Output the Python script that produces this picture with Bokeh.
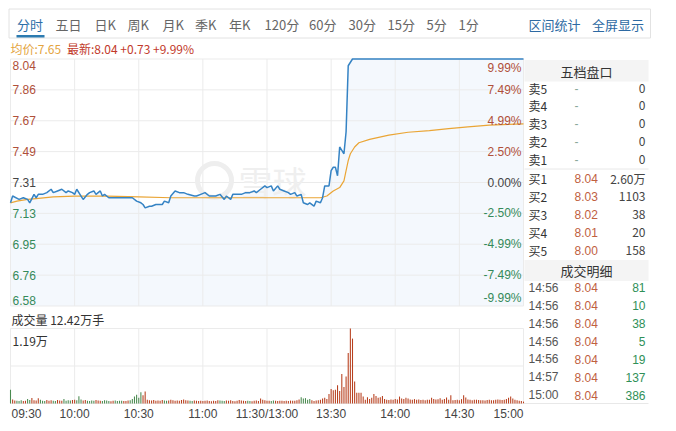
from bokeh.plotting import figure
from bokeh.models import Range1d, ColumnDataSource
from bokeh.core.properties import value
from bokeh.embed import file_html
from bokeh.resources import INLINE
from bokeh.transform import factor_cmap

# ---------------- data ----------------
tabs = ["分时", "五日", "日K", "周K", "月K", "季K", "年K", "120分", "60分", "30分", "15分", "5分", "1分"]
links = ["区间统计", "全屏显示"]
avg_text = "均价:7.65"
latest_text = "最新:8.04 +0.73 +9.99%"
watermark = "雪球"

prev_close = 7.31
limit_up = 8.04
limit_down = 6.58
price_tick_labels = ["8.04", "7.86", "7.67", "7.49", "7.31", "7.13", "6.95", "6.76", "6.58"]
pct_tick_labels = ["9.99%", "7.49%", "4.99%", "2.50%", "0.00%", "-2.50%", "-4.99%", "-7.49%", "-9.99%"]
time_tick_minutes = [0, 30, 60, 90, 120, 150, 180, 210, 240]
time_tick_labels = ["09:30", "10:00", "10:30", "11:00", "11:30/13:00", "13:30", "14:00", "14:30", "15:00"]

price_minutes = [0, 1, 4, 6, 8, 9, 11, 12, 13, 15, 17, 19, 20, 22, 24, 26, 27, 29,
                 30, 31, 33, 34, 36, 37, 39, 40, 42, 43, 44, 46, 49, 52, 55, 57, 59, 61,
                 62, 63, 65, 66, 68, 71, 72, 74, 75, 77, 79, 81, 83, 86, 87, 89, 91, 93,
                 96, 98, 100, 101, 103, 104, 106, 108, 110, 112, 114, 115, 117, 119, 120, 122, 123, 125,
                 126, 128, 130, 131, 133, 134, 136, 137, 139, 140, 142, 143, 145, 146, 147, 149, 150, 151,
                 152, 153, 154, 155, 156, 157, 158, 160, 240]
price_values = [7.19, 7.23, 7.21, 7.22, 7.21, 7.19, 7.24, 7.22, 7.24, 7.24, 7.25, 7.27,
                7.25, 7.26, 7.27, 7.25, 7.26, 7.25, 7.24, 7.27, 7.23, 7.21, 7.24, 7.25,
                7.26, 7.24, 7.26, 7.23, 7.24, 7.22, 7.22, 7.22, 7.22, 7.22, 7.20, 7.19,
                7.18, 7.16, 7.17, 7.17, 7.18, 7.18, 7.20, 7.19, 7.23, 7.26, 7.25, 7.25,
                7.24, 7.23, 7.23, 7.24, 7.25, 7.23, 7.23, 7.24, 7.21, 7.23, 7.21, 7.24,
                7.24, 7.24, 7.25, 7.25, 7.26, 7.25, 7.27, 7.29, 7.28, 7.29, 7.26, 7.29,
                7.27, 7.26, 7.25, 7.24, 7.25, 7.23, 7.24, 7.19, 7.18, 7.19, 7.17, 7.20,
                7.19, 7.22, 7.29, 7.29, 7.38, 7.40, 7.40, 7.35, 7.52, 7.50, 7.48, 7.61,
                8.00, 8.04, 8.04]

avg_minutes = [0, 3, 8, 12, 20, 30, 45, 60, 75, 90, 110, 130, 145, 148, 151, 154, 156, 157,
               158, 159, 161, 163, 168, 177, 186, 196, 205, 214, 224, 233, 240]
avg_values = [7.19, 7.20, 7.21, 7.215, 7.225, 7.23, 7.23, 7.225, 7.22, 7.22, 7.22, 7.22,
              7.22, 7.23, 7.26, 7.28, 7.32, 7.38, 7.44, 7.48, 7.52, 7.545, 7.565, 7.59,
              7.607, 7.617, 7.629, 7.639, 7.649, 7.653, 7.657]

vol_title = "成交量 12.42万手"
vol_max = 11900
vol_max_label = "1.19万"
volumes = [
    2200, 620, 480, 450, 400, 520, 380, 430, 700, 560,
    880, 520, 460, 820, 600, 450, 380, 560, 420, 500,
    430, 380, 560, 480, 450, 700, 420, 520, 480, 560,
    600, 520, 1150, 650, 480, 560, 420, 380, 460, 420,
    560, 480, 430, 380, 520, 460, 380, 350, 420, 480,
    380, 420, 450, 400, 380, 460, 520, 700, 1100, 1400,
    900, 1800, 1300, 1900, 600, 520, 480, 560, 450, 480,
    430, 560, 480, 420, 460, 600, 520, 450, 480, 420,
    560, 620, 500, 480, 420, 380, 460, 430, 390, 420,
    380, 420, 460, 400, 350, 420, 380, 520, 460, 430,
    380, 460, 420, 520, 380, 350, 420, 560, 480, 420,
    380, 430, 400, 360, 420, 460, 380, 800, 600, 520,
    450, 420, 380, 460, 420, 380, 430, 450, 400, 420,
    380, 460, 430, 420, 500, 650, 1000, 800, 850, 600,
    700, 520, 400, 480, 520, 600, 800, 900, 700, 1500,
    2300, 2100, 2200, 2900, 2000, 4700, 2600, 4300, 8000, 11900,
    10300, 3500, 1700, 1700, 1700, 1100, 600, 1000, 700, 900,
    1500, 1200, 900, 1000, 1200, 700, 600, 550, 650, 600,
    700, 650, 1100, 800, 700, 900, 800, 650, 600, 700,
    580, 620, 560, 600, 520, 600, 580, 900, 700, 620,
    680, 820, 600, 700, 950, 580, 1300, 500, 560, 600,
    500, 700, 1300, 950, 650, 600, 520, 580, 600, 550,
    520, 500, 480, 560, 600, 500, 520, 580, 650, 600,
    550, 600, 700, 900, 1100, 800, 600, 500, 450, 400,
    300]
# run-length direction of each minute bar (u = up / red, d = down / green)
vol_dir_runs = [("d", 1), ("u", 2), ("d", 3), ("u", 2), ("d", 2), ("u", 4), ("d", 3), ("u", 3),
                ("d", 2), ("u", 3), ("d", 4), ("u", 2), ("d", 3), ("u", 2), ("d", 4), ("u", 3),
                ("d", 4), ("u", 2), ("d", 4), ("u", 3), ("d", 6), ("u", 2),
                ("u", 8), ("d", 2), ("u", 10), ("d", 2), ("u", 12), ("d", 3), ("u", 10),
                ("d", 2), ("u", 9), ("d", 2), ("u", 12), ("d", 5), ("u", 100)]

book_title = "五档盘口"
ask_labels = ["卖5", "卖4", "卖3", "卖2", "卖1"]
ask_prices = ["-", "-", "-", "-", "-"]
ask_vols = ["0", "0", "0", "0", "0"]
bid_labels = ["买1", "买2", "买3", "买4", "买5"]
bid_prices = ["8.04", "8.03", "8.02", "8.01", "8.00"]
bid_vols = ["2.60万", "1103", "38", "20", "158"]
trades_title = "成交明细"
trade_times = ["14:56", "14:56", "14:56", "14:56", "14:56", "14:57", "15:00"]
trade_prices = ["8.04", "8.04", "8.04", "8.04", "8.04", "8.04", "8.04"]
trade_vols = ["81", "10", "38", "5", "19", "137", "386"]

# ---------------- layout (page pixels) ----------------
W, H = 676, 431
X0, Y0 = 0, 0
CH_L, CH_R = 10, 523
PR_T, PR_B = 58.5, 305.5
VO_T, VO_B = 328, 403
N_MIN = 240

CJK = value("Noto Sans CJK SC")
LAT = value("Liberation Sans")
RED = "#b0503a"
GREEN = "#348a5a"
GRID = "#ebebeb"

mpp = N_MIN / (CH_R - CH_L)
ppp = (limit_up - limit_down) / (PR_B - PR_T)
vpp = vol_max / (VO_B - VO_T)

p = figure(width=W, height=H,
           x_range=Range1d(-(CH_L - X0) * mpp, N_MIN + (X0 + W - CH_R) * mpp),
           y_range=Range1d(limit_down - (Y0 + H - PR_B) * ppp, limit_up + (PR_T - Y0) * ppp),
           output_backend="svg", toolbar_location=None, min_border=0,
           x_axis_location=None, y_axis_location=None,
           background_fill_color="white", border_fill_color="white",
           outline_line_color=None)
p.grid.visible = False
p.extra_y_ranges = {"vol": Range1d(-(Y0 + H - VO_B) * vpp, vol_max + (VO_T - Y0) * vpp),
                    "py": Range1d(Y0 + H, Y0)}
p.extra_x_ranges = {"px": Range1d(X0, X0 + W)}

PX = dict(x_range_name="px", y_range_name="py")

# ---- header bar ----
p.quad(left=[8.5], right=[650], top=[8.5], bottom=[37.5], fill_color="white",
       line_color="#e2e2e2", **PX)
p.quad(left=[16], right=[44], top=[34.5], bottom=[37], fill_color="#2c7bb0",
       line_color=None, **PX)
tab_x = [16.5, 55, 94, 127, 162, 194.5, 228.5, 264, 308.5, 348, 387, 426, 458]
tab_colors = ["#2c6fa8"] + ["#666666"] * (len(tabs) - 1)
p.text(x=tab_x, y=[23.5] * len(tabs), text=tabs, text_color=tab_colors, text_font=CJK,
       text_font_size="13px", text_baseline="middle", text_align="left", **PX)
p.text(x=[528, 591.5], y=[23.5, 23.5], text=links, text_color="#2d6aa3", text_font=CJK,
       text_font_size="13px", text_baseline="middle", text_align="left", **PX)
p.text(x=[10], y=[47.5], text=[avg_text], text_color="#e4a43e", text_font=CJK,
       text_font_size="12px", text_baseline="middle", **PX)
p.text(x=[66.5], y=[47.5], text=[latest_text], text_color="#c23a2b", text_font=CJK,
       text_font_size="12px", text_baseline="middle", **PX)

# ---- price area ----
p.varea(x=price_minutes, y1=[limit_down] * len(price_minutes), y2=price_values,
        fill_color="#f4f8fd")
n_t = len(price_tick_labels)
tick_prices = [prev_close + (limit_up - prev_close) * (n_t // 2 - i) / (n_t // 2) for i in range(n_t)]
p.segment(x0=[0] * n_t, x1=[N_MIN] * n_t, y0=tick_prices, y1=tick_prices,
          line_color=GRID, line_width=1)
p.segment(x0=time_tick_minutes, x1=time_tick_minutes,
          y0=[limit_down] * len(time_tick_minutes), y1=[limit_up] * len(time_tick_minutes),
          line_color=GRID, line_width=1)

# faint watermark
p.circle(x=[214], y=[180], radius=17, radius_units="screen", fill_color=None,
         line_color="#eeeeee", line_width=5, **PX)
p.text(x=[238], y=[181], text=[watermark], text_color="#efefef", text_font=CJK,
       text_font_size="34px", text_baseline="middle", **PX)

p.line(avg_minutes, avg_values, line_color="#eaa535", line_width=1.2)
p.line(price_minutes, price_values, line_color="#3583c4", line_width=1.5)

tick_colors = [RED if v > prev_close + 1e-9 else (GREEN if v < prev_close - 1e-9 else "#444444")
               for v in tick_prices]
groups = [(slice(0, 1), "top", 2), (slice(1, n_t - 1), "middle", 0), (slice(n_t - 1, n_t), "bottom", -1)]
for sl, base, yo in groups:
    p.text(x=[0] * len(tick_prices[sl]), y=tick_prices[sl], text=price_tick_labels[sl],
           text_color=tick_colors[sl], text_font=LAT, text_font_size="12px",
           text_baseline=base, text_align="left", x_offset=2, y_offset=yo)
    p.text(x=[N_MIN] * len(tick_prices[sl]), y=tick_prices[sl], text=pct_tick_labels[sl],
           text_color=tick_colors[sl], text_font=LAT, text_font_size="12px",
           text_baseline=base, text_align="right", x_offset=-2, y_offset=yo)

# ---- volume area ----
vol_grid = [0, vol_max / 2, vol_max]
p.segment(x0=[0] * 3, x1=[N_MIN] * 3, y0=vol_grid, y1=vol_grid, line_color=GRID,
          y_range_name="vol")
p.segment(x0=time_tick_minutes, x1=time_tick_minutes, y0=[0] * len(time_tick_minutes),
          y1=[vol_max] * len(time_tick_minutes), line_color=GRID, y_range_name="vol")
dirs = [d for d, n in vol_dir_runs for _ in range(n)]
vsrc = ColumnDataSource(dict(m=list(range(len(volumes))), v=volumes, d=dirs))
p.vbar(x="m", top="v", bottom=0, width=0.5, source=vsrc, y_range_name="vol",
       fill_color=factor_cmap("d", ["#b8401f", "#4a8a50"], ["u", "d"]),
       line_color=None)
p.text(x=[CH_L + 1], y=[318.5], text=[vol_title], text_color="#333333", text_font=CJK,
       text_font_size="12px", text_baseline="middle", **PX)
p.text(x=[0], y=[vol_max], text=[vol_max_label], text_color="#333333", text_font=CJK,
       text_font_size="12px", text_baseline="top", x_offset=2, y_offset=3, y_range_name="vol")

# time labels
tl_y = [413.5] * len(time_tick_minutes)
p.text(x=time_tick_minutes[:1], y=tl_y[:1], text=time_tick_labels[:1], text_color="#444444",
       text_font=LAT, text_font_size="12px", text_baseline="middle", text_align="left",
       x_offset=1, y_range_name="py")
p.text(x=time_tick_minutes[1:-1], y=tl_y[1:-1], text=time_tick_labels[1:-1], text_color="#444444",
       text_font=LAT, text_font_size="12px", text_baseline="middle", text_align="center",
       y_range_name="py")
p.text(x=time_tick_minutes[-1:], y=tl_y[-1:], text=time_tick_labels[-1:], text_color="#444444",
       text_font=LAT, text_font_size="12px", text_baseline="middle", text_align="right",
       y_range_name="py")

# ---- right panel ----
PL, PR = 524, 648
COL_LABEL, COL_PRICE, COL_VOL = 528, 574, 645
p.quad(left=[PL, PL], right=[PR, PR], top=[59.5, 259.5], bottom=[81, 280.5],
       fill_color="#f4f4f4", line_color=None, **PX)
p.segment(x0=[PL, CH_R], x1=[PR, PR], y0=[168.5, VO_B], y1=[168.5, VO_B],
          line_color="#e8e8e8", **PX)
p.text(x=[(PL + PR) / 2] * 2, y=[70.5, 270], text=[book_title, trades_title], text_color="#333333",
       text_font=CJK, text_font_size="13px", text_baseline="middle", text_align="center", **PX)

row_h = 17.9
ask_y = [87.5 + i * row_h for i in range(5)]
bid_y = [178.3 + i * row_h for i in range(5)]
trade_y = [287.3 + i * row_h for i in range(len(trade_times))]

p.text(x=[COL_LABEL] * 10, y=ask_y + bid_y, text=ask_labels + bid_labels, text_color="#333333",
       text_font=CJK, text_font_size="12px", text_baseline="middle", **PX)
p.text(x=[COL_PRICE] * 5, y=ask_y, text=ask_prices, text_color="#8aa89a",
       text_font=LAT, text_font_size="12px", text_baseline="middle", **PX)
p.text(x=[COL_PRICE] * 5, y=bid_y, text=bid_prices, text_color="#c0603f",
       text_font=LAT, text_font_size="12px", text_baseline="middle", **PX)
p.text(x=[COL_VOL] * 10, y=ask_y + bid_y, text=ask_vols + bid_vols, text_color="#444444",
       text_font=CJK, text_font_size="12px", text_baseline="middle", text_align="right", **PX)

p.text(x=[COL_LABEL] * len(trade_y), y=trade_y, text=trade_times, text_color="#555555",
       text_font=LAT, text_font_size="12px", text_baseline="middle", **PX)
p.text(x=[COL_PRICE] * len(trade_y), y=trade_y, text=trade_prices, text_color="#c0603f",
       text_font=LAT, text_font_size="12px", text_baseline="middle", **PX)
p.text(x=[COL_VOL] * len(trade_y), y=trade_y, text=trade_vols, text_color="#2f9058",
       text_font=LAT, text_font_size="12px", text_baseline="middle", text_align="right", **PX)

open("out.html", "w").write(file_html(p, INLINE))
